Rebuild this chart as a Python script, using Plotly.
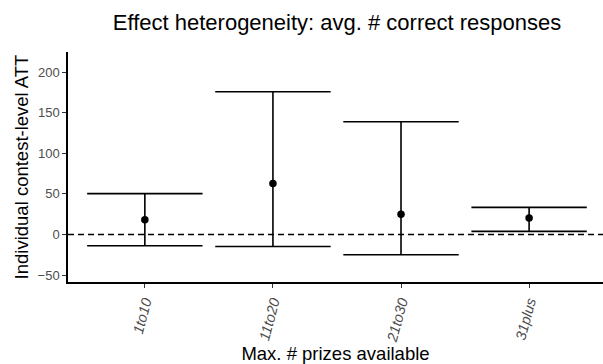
import plotly.graph_objects as go

# Prize-cap groups and the estimated ATT with its confidence interval
groups = ["1to10", "11to20", "21to30", "31plus"]
att = [18.1, 62.6, 24.7, 20.1]
ci_low = [-14.0, -14.8, -25.0, 3.7]
ci_high = [50.2, 175.7, 138.7, 33.3]
y_ticks = [-50, 0, 50, 100, 150, 200]

err_plus = [h - e for h, e in zip(ci_high, att)]
err_minus = [e - l for e, l in zip(att, ci_low)]

FONT = "Liberation Sans, Arial, sans-serif"

fig = go.Figure()
fig.add_trace(go.Scatter(
    x=groups,
    y=att,
    mode="markers",
    marker=dict(color="black", size=7.5),
    error_y=dict(
        type="data",
        symmetric=False,
        array=err_plus,
        arrayminus=err_minus,
        color="black",
        thickness=1.6,
        width=57.7,
    ),
    showlegend=False,
    hoverinfo="skip",
))

# Reference line at zero effect
fig.add_hline(y=0, line=dict(color="black", width=1.5, dash="6px,4px"))

fig.update_layout(
    width=603,
    height=364,
    margin=dict(l=68, r=0, t=52, b=82),
    paper_bgcolor="white",
    plot_bgcolor="white",
    font=dict(family=FONT, color="black"),
    title=dict(
        text="Effect heterogeneity: avg. # correct responses",
        font=dict(family=FONT, size=22, color="black"),
        xref="container",
        x=337 / 603,
        xanchor="center",
        yref="container",
        y=1 - 22 / 364,
        yanchor="middle",
    ),
    xaxis=dict(
        type="category",
        categoryorder="array",
        categoryarray=groups,
        range=[-0.6, 3.577],
        showline=True,
        linecolor="black",
        linewidth=1.5,
        ticks="outside",
        ticklen=4,
        tickwidth=1.2,
        tickcolor="#333333",
        tickangle=-75,
        ticklabelstandoff=0,
        tickfont=dict(family=FONT, size=14.5, color="#4D4D4D", style="italic"),
        showgrid=False,
        zeroline=False,
        title=dict(text="Max. # prizes available",
                   font=dict(family=FONT, size=18.5, color="black"),
                   standoff=6),
    ),
    yaxis=dict(
        range=[-58.6, 224.7],
        tickvals=y_ticks,
        showline=True,
        linecolor="black",
        linewidth=1.5,
        ticks="outside",
        ticklen=4,
        tickwidth=1.2,
        tickcolor="#333333",
        ticklabelstandoff=0,
        tickfont=dict(family=FONT, size=13, color="#4D4D4D"),
        showgrid=False,
        zeroline=False,
        title=dict(text="Individual contest-level ATT",
                   font=dict(family=FONT, size=18.5, color="black"),
                   standoff=4),
    ),
)

fig.write_html("out.html")
